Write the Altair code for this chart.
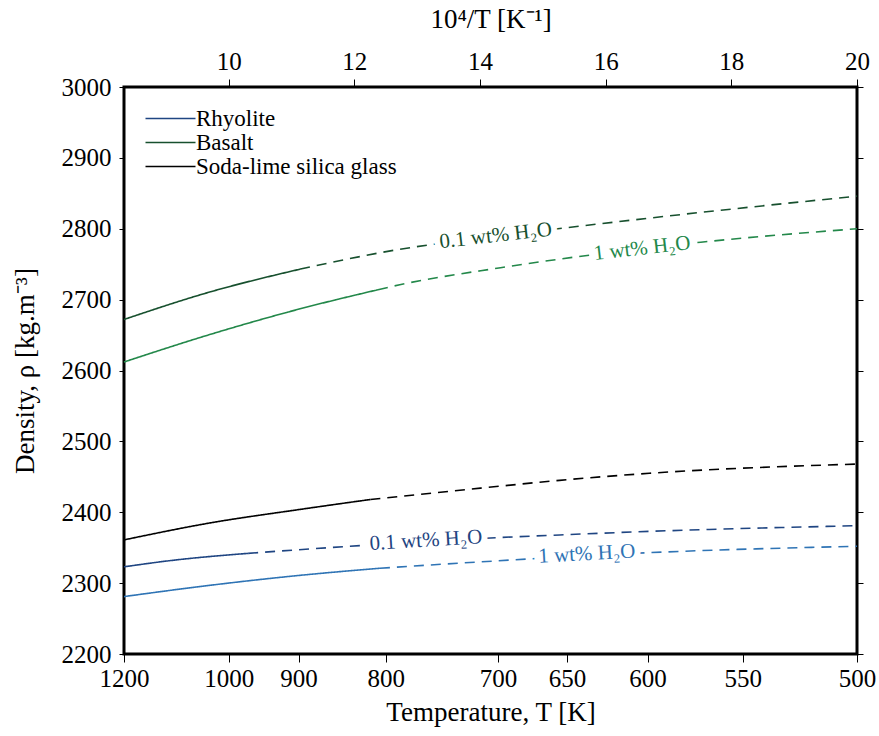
import altair as alt
import pandas as pd
import numpy as np

# ---- data ----
series_names = ["Rhyolite", "Rhyolite 1 wt%", "Basalt", "Basalt 1 wt%", "Soda-lime silica glass"]
series_colors = ["#1f4582", "#2f74b5", "#17502e", "#23884a", "#000000"]

# temperature (K) and density (kg/m3) samples for each curve
rhy01_T = [1200, 1100, 970, 827, 714, 655, 599, 500]
rhy01_rho = [2323, 2332, 2342, 2353, 2363, 2368, 2373, 2381]
rhy1_T = [1200, 1030, 898, 806, 714, 599, 500]
rhy1_rho = [2281, 2297, 2311, 2321, 2330, 2343, 2352]
bas01_T = [1200, 1030, 898, 786, 702, 599, 500]
bas01_rho = [2672, 2711, 2743, 2771, 2789, 2815, 2846]
bas1_T = [1200, 1030, 898, 808, 786, 698, 571, 500]
bas1_rho = [2612, 2651, 2687, 2714, 2721, 2745, 2781, 2800]
slg_T = [1200, 1030, 898, 816, 714, 655, 599, 500]
slg_rho = [2361, 2385, 2404, 2418, 2434, 2445, 2455, 2468]

# temperature at which the solid curve turns into a dashed one
break_T = [970, 806, 898, 808, 816]

# inline labels: text, series, 10^4/T, density
label_text = ["0.1 wt% H₂O", "1 wt% H₂O", "0.1 wt% H₂O", "1 wt% H₂O"]
label_series = ["Basalt", "Basalt 1 wt%", "Rhyolite", "Rhyolite 1 wt%"]
label_u = [14.25, 16.58, 13.14, 15.70]
label_rho = [2790, 2772, 2360, 2341]
label_angle = [353.5, 353.5, 356.5, 356.8]

# axis ticks
bottom_T_ticks = [1200, 1000, 900, 800, 700, 650, 600, 550, 500]
top_u_ticks = [10, 12, 14, 16, 18, 20]
y_ticks = [2200, 2300, 2400, 2500, 2600, 2700, 2800, 2900, 3000]

curves = [
    (rhy01_T, rhy01_rho),
    (rhy1_T, rhy1_rho),
    (bas01_T, bas01_rho),
    (bas1_T, bas1_rho),
    (slg_T, slg_rho),
]

rows = []
for name, (Ts, rhos), bT in zip(series_names, curves, break_T):
    for T, r in zip(Ts, rhos):
        if T >= bT:
            rows.append({"series": name, "seg": "solid", "u": 1e4 / T, "rho": r})
        if T <= bT:
            rows.append({"series": name, "seg": "dashed", "u": 1e4 / T, "rho": r})
    if bT not in Ts:
        rb = float(np.interp(bT, np.array(Ts[::-1], float), np.array(rhos[::-1], float)))
        rows.append({"series": name, "seg": "solid", "u": 1e4 / bT, "rho": rb})
        rows.append({"series": name, "seg": "dashed", "u": 1e4 / bT, "rho": rb})
df = pd.DataFrame(rows)

lab_df = pd.DataFrame({
    "text": label_text, "series": label_series, "u": label_u, "rho": label_rho,
    "angle": label_angle,
})

FONT = "Liberation Serif"
LFS = 25   # tick label size
TFS = 27   # axis title size
xscale = alt.Scale(domain=[1e4 / 1200, 20], nice=False, zero=False)
yscale = alt.Scale(domain=[2200, 3000], nice=False, zero=False)
cscale = alt.Scale(domain=series_names, range=series_colors)

common = dict(grid=False, domain=False, tickColor="black", labelFlush=False,
              labelFont=FONT, titleFont=FONT, labelColor="black",
              titleColor="black", titleFontWeight="normal",
              labelFontSize=LFS, titleFontSize=TFS)

lines = alt.Chart(df).mark_line(strokeWidth=1.6, interpolate="monotone").encode(
    x=alt.X("u:Q", scale=xscale, axis=alt.Axis(
        orient="bottom", values=[1e4 / t for t in bottom_T_ticks],
        labelExpr="format(10000/datum.value, '.0f')",
        title="Temperature, T [K]", tickSize=8, labelPadding=4, titlePadding=8,
        **common)),
    y=alt.Y("rho:Q", scale=yscale, axis=alt.Axis(
        orient="left", values=y_ticks, format="d", title="Density, ρ [kg.m⁻³]",
        tickSize=5, labelPadding=8, titlePadding=22, **common)),
    color=alt.Color("series:N", scale=cscale, legend=alt.Legend(
        values=["Rhyolite", "Basalt", "Soda-lime silica glass"], title=None,
        orient="none", legendX=35, legendY=20, symbolType="M-5,0H5",
        symbolStrokeWidth=1.6, symbolSize=100, symbolFillColor="transparent",
        labelFont=FONT, labelFontSize=23,
        labelColor="black", labelLimit=0, rowPadding=0, labelOffset=14,
        padding=0)),
    strokeDash=alt.StrokeDash("seg:N", scale=alt.Scale(
        domain=["solid", "dashed"], range=[[1, 0], [10, 7]]), legend=None),
    detail="seg:N",
)

halo = alt.Chart(lab_df).mark_text(
    font=FONT, fontSize=21, stroke="white", strokeWidth=12, fill="white"
).encode(
    x=alt.X("u:Q", scale=xscale, axis=alt.Axis(
        orient="top", values=top_u_ticks, title="10⁴/T [K⁻¹]", tickSize=8,
        labelPadding=5, titlePadding=16, **common)),
    y=alt.Y("rho:Q", scale=yscale, axis=alt.Axis(
        orient="right", values=y_ticks, title="", labels=False, grid=False,
        domain=False, tickSize=6, tickColor="black")),
    text="text:N",
    angle=alt.Angle("angle:Q", scale=None),
)

texts = alt.Chart(lab_df).mark_text(font=FONT, fontSize=21).encode(
    x=alt.X("u:Q", scale=xscale, axis=None),
    y=alt.Y("rho:Q", scale=yscale, axis=None),
    text="text:N",
    angle=alt.Angle("angle:Q", scale=None),
    color=alt.Color("series:N", scale=cscale, legend=None),
)

chart = alt.layer(lines, halo, texts).resolve_axis(
    x="independent", y="independent"
).properties(
    width=733, height=567,
    autosize=alt.AutoSizeParams(type="none"),
    padding={"left": 124, "top": 87, "right": 22, "bottom": 82},
    background="white",
).configure_view(stroke="black", strokeWidth=3)

chart.save("out.html", embed_options={"renderer": "svg", "actions": False})
